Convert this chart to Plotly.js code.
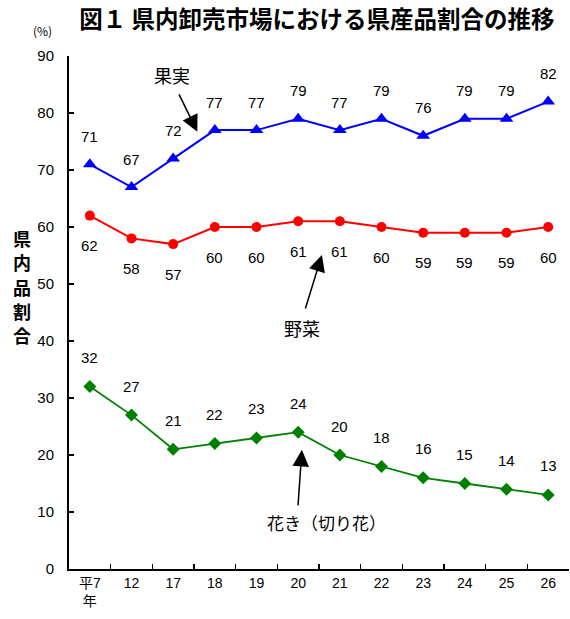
<!DOCTYPE html>
<html><head><meta charset="utf-8">
<script src="https://cdn.plot.ly/plotly-3.0.1.min.js"></script>
<style>body{margin:0;background:#fff}#c{width:570px;height:619px}</style>
</head><body><div id="c"></div>
<script>
const categories = ['平7<br>年','12','17','18','19','20','21','22','23','24','25','26'];
const fruit = [71,67,72,77,77,79,77,79,76,79,79,82];
const veg = [62,58,57,60,60,61,61,60,59,59,59,60];
const flower = [32,27,21,22,23,24,20,18,16,15,14,13];
const yTitleChars = ['県','内','品','割','合'];

const numFont = {family:'Liberation Sans, Arial, sans-serif', size:15, color:'#000'};
const jp = 'Noto Sans CJK JP, sans-serif';

const traces = [
 {x:categories, y:fruit, type:'scatter', mode:'lines+markers', line:{color:'#0000FF', width:2},
  marker:{symbol:'triangle-up', size:12, color:'#0000FF'}, cliponaxis:false},
 {x:categories, y:veg, type:'scatter', mode:'lines+markers', line:{color:'#FF0000', width:2},
  marker:{symbol:'circle', size:10, color:'#FF0000'}, cliponaxis:false},
 {x:categories, y:flower, type:'scatter', mode:'lines+markers', line:{color:'#008000', width:1.8},
  marker:{symbol:'diamond', size:10, color:'#008000'}, cliponaxis:false}
];

const ann = [];
function labels(vals, shift){
  vals.forEach((v,i)=>ann.push({x:i, y:v, xref:'x', yref:'y', text:String(v), showarrow:false,
    yshift:shift, font:numFont}));
}
labels(fruit, 28); labels(veg, -30); labels(flower, 29);

const nameFont = {family:jp, size:18, color:'#000'};
ann.push({x:1.97, y:86.7, xref:'x', yref:'y', text:'果実', showarrow:false, font:nameFont});
ann.push({x:2.58, y:76.7, xref:'x', yref:'y', text:'', showarrow:true, ax:-19, ay:-39,
  arrowhead:2, arrowsize:2.2, arrowwidth:1.5, arrowcolor:'#000'});
ann.push({x:5.09, y:42.3, xref:'x', yref:'y', text:'野菜', showarrow:false, font:nameFont});
ann.push({x:5.57, y:55.1, xref:'x', yref:'y', text:'', showarrow:true, ax:-17, ay:55,
  arrowhead:2, arrowsize:2.2, arrowwidth:1.5, arrowcolor:'#000'});
ann.push({x:5.69, y:8.1, xref:'x', yref:'y', text:'花き（切り花）', showarrow:false, font:{family:jp, size:17, color:'#000'}});
ann.push({x:5.09, y:20.9, xref:'x', yref:'y', text:'', showarrow:true, ax:-4, ay:57,
  arrowhead:2, arrowsize:2.2, arrowwidth:1.5, arrowcolor:'#000'});

// (%) unit label
ann.push({xref:'paper', yref:'paper', x:-0.054, y:1.049, xanchor:'center', yanchor:'middle', text:'(%)', showarrow:false,
  font:{family:jp, size:12, color:'#000'}});
// stacked vertical y-axis title, one character per annotation
yTitleChars.forEach((ch,i)=>ann.push({xref:'paper', yref:'paper', x:-0.094, y:(569-(238+i*24.3))/513,
  xanchor:'center', yanchor:'middle', text:'<b>'+ch+'</b>', showarrow:false, font:{family:jp, size:18, color:'#000'}}));

const layout = {
  width:570, height:619,
  margin:{l:69, r:1, t:56, b:50},
  paper_bgcolor:'#fff', plot_bgcolor:'#fff',
  showlegend:false,
  title:{text:'<b>図１ 県内卸売市場における県産品割合の推移</b>', font:{family:jp, size:23.5, color:'#000'},
    x:0.556, xanchor:'center', y:0.968, yanchor:'middle'},
  xaxis:{type:'category', range:[-0.5, 11.5], showline:true, linecolor:'#000', linewidth:2,
    ticks:'inside', tickson:'boundaries', ticklen:5, tickwidth:1.5, tickcolor:'#000',
    showgrid:false, zeroline:false, tickfont:{family:'Liberation Sans, '+jp, size:14, color:'#000'}},
  yaxis:{range:[0,90], dtick:10, showline:true, linecolor:'#000', linewidth:2,
    ticks:'inside', ticklen:5, tickwidth:1.5, tickcolor:'#000', showgrid:false, zeroline:false,
    ticklabelstandoff:10, tickfont:{family:'Liberation Sans, Arial, sans-serif', size:15, color:'#000'}},
  annotations: ann
};
Plotly.newPlot('c', traces, layout, {displayModeBar:false, staticPlot:true});
</script></body></html>
